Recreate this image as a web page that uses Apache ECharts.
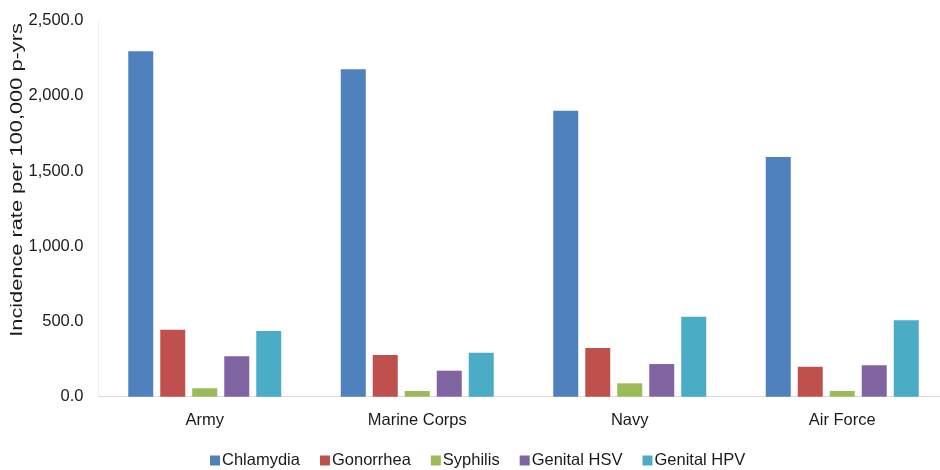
<!DOCTYPE html>
<html><head><meta charset="utf-8">
<script src="https://cdn.jsdelivr.net/npm/echarts@6/dist/echarts.min.js"></script>
<style>html,body{margin:0;padding:0;background:#fff}#c{width:940px;height:470px}</style>
</head><body><div id="c"></div>
<script>
const categories = ['Army', 'Marine Corps', 'Navy', 'Air Force'];
const chlamydia = [2297, 2177, 1902, 1594];
const gonorrhea = [445, 277, 324, 199];
const syphilis = [56, 38, 89, 38];
const genitalHSV = [269, 173, 217, 209];
const genitalHPV = [437, 293, 532, 508];
const seriesNames = ['Chlamydia', 'Gonorrhea', 'Syphilis', 'Genital HSV', 'Genital HPV'];
const colors = ['#4F81BD', '#C0504D', '#9BBB59', '#8064A2', '#4BACC6'];
const values = [chlamydia, gonorrhea, syphilis, genitalHSV, genitalHPV];
const yTitle = 'Incidence rate per 100,000 p-yrs';

const font = 'Liberation Sans, Arial, sans-serif';
const fs = 16.5;
const tc = '#1a1a1a';
const chart = echarts.init(document.getElementById('c'));
chart.setOption({
  animation: false,
  color: colors,
  textStyle: {fontFamily: font},
  grid: {left: 98.5, top: 20.7, width: 850, height: 376, containLabel: false, outerBoundsMode: 'none'},
  legend: {
    top: 447, left: 205, itemWidth: 10, itemHeight: 10, itemGap: 20,
    icon: 'rect',
    textStyle: {fontFamily: font, fontSize: fs, color: tc, padding: [0, 0, 0, -3]},
    data: seriesNames
  },
  graphic: [{
    type: 'text', x: 17, y: 180, rotation: Math.PI / 2, scaleX: 1.32,
    style: {text: yTitle, fontFamily: font, fontSize: fs, fill: tc, align: 'center', verticalAlign: 'middle'}
  }],
  xAxis: {
    type: 'category', data: categories,
    axisLine: {lineStyle: {color: '#d9d9d9', width: 1}},
    axisTick: {show: false},
    axisLabel: {fontFamily: font, fontSize: fs, color: tc, margin: 15}
  },
  yAxis: {
    type: 'value', min: 0, max: 2500, interval: 500,
    axisLine: {show: true, lineStyle: {color: '#f0f0f0'}},
    axisTick: {show: false},
    splitLine: {show: false},
    axisLabel: {fontFamily: font, fontSize: fs, color: tc, margin: 15,
      formatter: v => v.toLocaleString('en-US', {minimumFractionDigits: 1, maximumFractionDigits: 1})}
  },
  series: seriesNames.map((n, i) => ({
    name: n, type: 'bar', data: values[i], barWidth: 25, barGap: '28%',
    itemStyle: {color: colors[i]}
  }))
});
</script></body></html>
